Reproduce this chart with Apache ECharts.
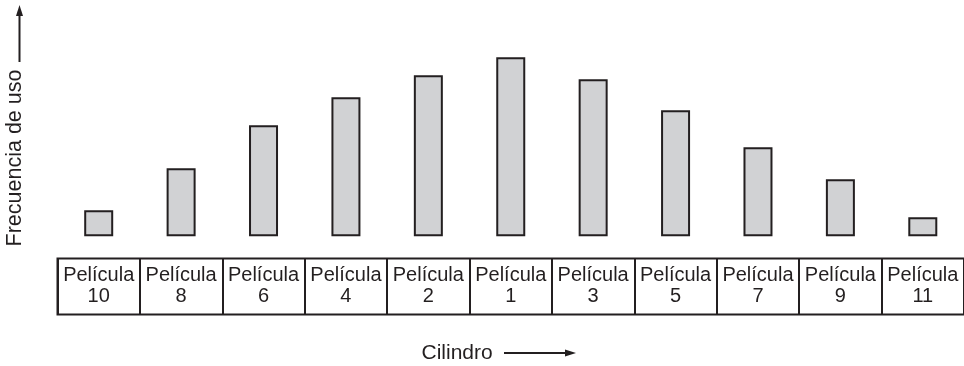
<!DOCTYPE html>
<html>
<head>
<meta charset="utf-8">
<script src="https://cdn.jsdelivr.net/npm/echarts@6/dist/echarts.min.js"></script>
<style>
html,body{margin:0;padding:0;background:#fff;}
#chart{width:964px;height:366px;}
</style>
</head>
<body>
<div id="chart"></div>
<script>
// Data
var categories = ['Película\n10','Película\n8','Película\n6','Película\n4','Película\n2','Película\n1','Película\n3','Película\n5','Película\n7','Película\n9','Película\n11'];
var frequency = [26, 68, 111, 139, 161, 179, 157, 126, 89, 57, 19];
var yAxisTitle = 'Frecuencia de uso';
var xAxisTitle = 'Cilindro';

var FONT = '"Liberation Sans", Arial, Helvetica, sans-serif';
var INK = '#231f20';

var chart = echarts.init(document.getElementById('chart'), null, {renderer: 'canvas'});
chart.setOption({
  animation: false,
  backgroundColor: '#ffffff',
  grid: [
    {left: 57.5, width: 912, top: 36.2, height: 200, show: false},
    {left: 57.5, width: 912, top: 258.5, height: 56, show: true,
     borderColor: INK, borderWidth: 2, backgroundColor: 'transparent'}
  ],
  xAxis: [
    {type: 'category', gridIndex: 0, data: categories, boundaryGap: true,
     axisLine: {show: false}, axisTick: {show: false}, axisLabel: {show: false}, splitLine: {show: false}},
    {type: 'category', gridIndex: 1, data: categories, boundaryGap: true, position: 'top',
     axisLine: {show: false}, axisTick: {show: false},
     splitLine: {show: true, lineStyle: {color: INK, width: 2}},
     axisLabel: {show: true, inside: true, margin: 6, interval: 0,
       fontFamily: FONT, fontSize: 20, lineHeight: 21, color: INK, align: 'center'}}
  ],
  yAxis: [
    {type: 'value', gridIndex: 0, min: 0, max: 200, show: false, splitLine: {show: false}},
    {type: 'value', gridIndex: 1, min: 0, max: 1, show: false, splitLine: {show: false}}
  ],
  series: [{
    type: 'bar',
    xAxisIndex: 0, yAxisIndex: 0,
    data: frequency,
    barWidth: 29,
    itemStyle: {color: '#d1d2d4', borderColor: INK, borderWidth: 2}
  }],
  graphic: [
    {type: 'text', x: 15, y: 158, rotation: Math.PI / 2,
     style: {text: yAxisTitle, fontFamily: FONT, fontSize: 21.5, fill: INK, align: 'center', verticalAlign: 'middle'}},
    {type: 'line', shape: {x1: 19.5, y1: 62, x2: 19.5, y2: 14}, style: {stroke: INK, lineWidth: 2}},
    {type: 'polygon', shape: {points: [[19.5, 5], [16, 16], [23, 16]]}, style: {fill: INK}},
    {type: 'text', x: 421.5, y: 353,
     style: {text: xAxisTitle, fontFamily: FONT, fontSize: 21, fill: INK, align: 'left', verticalAlign: 'middle'}},
    {type: 'line', shape: {x1: 504, y1: 353, x2: 567, y2: 353}, style: {stroke: INK, lineWidth: 2}},
    {type: 'polygon', shape: {points: [[576, 353], [565, 349.5], [565, 356.5]]}, style: {fill: INK}}
  ]
});
</script>
</body>
</html>
